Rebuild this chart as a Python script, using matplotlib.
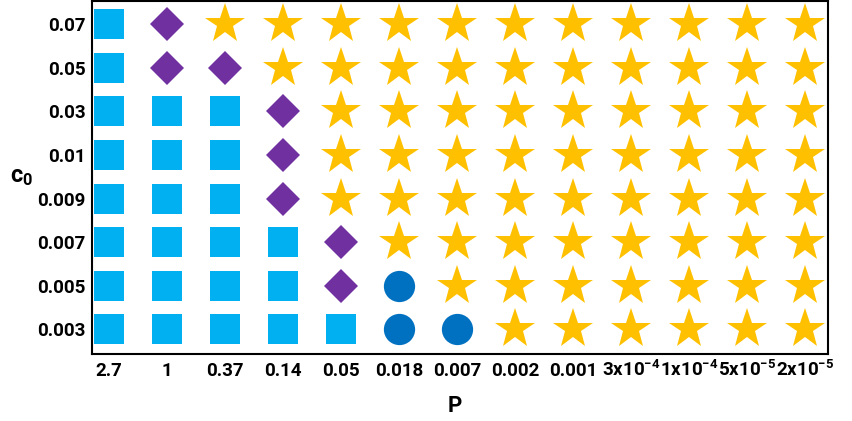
import matplotlib
matplotlib.use("Agg")
import matplotlib.pyplot as plt

plt.rcParams['font.family'] = ['Roboto', 'DejaVu Sans']
plt.rcParams['font.weight'] = 'bold'
plt.rcParams['mathtext.fontset'] = 'custom'
plt.rcParams['mathtext.rm'] = 'Roboto:bold'
plt.rcParams['mathtext.bf'] = 'Roboto:bold'
plt.rcParams['mathtext.default'] = 'bf'

# P values along x, c0 values along y (bottom to top)
p_labels = ['2.7', '1', '0.37', '0.14', '0.05', '0.018', '0.007', '0.002', '0.001',
            r'3x10$^{-4}$', r'1x10$^{-4}$', r'5x10$^{-5}$', r'2x10$^{-5}$']
c0_labels = ['0.003', '0.005', '0.007', '0.009', '0.01', '0.03', '0.05', '0.07']

# phase of each (c0, P) point: S=square, D=diamond, C=circle, T=star
phase_rows = [
    'SSSSSCCTTTTTT',  # 0.003
    'SSSSDCTTTTTTT',  # 0.005
    'SSSSDTTTTTTTT',  # 0.007
    'SSSDTTTTTTTTT',  # 0.009
    'SSSDTTTTTTTTT',  # 0.01
    'SSSDTTTTTTTTT',  # 0.03
    'SDDTTTTTTTTTT',  # 0.05
    'SDTTTTTTTTTTT',  # 0.07
]

styles = {
    'S': dict(marker='s', color='#00B0F0', ms=22),
    'D': dict(marker='D', color='#7030A0', ms=17.5),
    'C': dict(marker='o', color='#0070C0', ms=22.5),
    'T': dict(marker='*', color='#FFC000', ms=30),
}

fig = plt.figure(figsize=(8.52, 4.21), dpi=100)
ax = fig.add_axes([0.108, 0.159, 0.864, 0.838])

for code, st in styles.items():
    xs, ys = [], []
    for j, row in enumerate(phase_rows):
        for i, ch in enumerate(row):
            if ch == code:
                xs.append(i)
                ys.append(j)
    ax.plot(xs, ys, linestyle='none', marker=st['marker'], color=st['color'],
            markersize=st['ms'], markeredgewidth=0)

ax.set_xlim(-0.29, 12.4)
ax.set_ylim(-0.57, 7.53)
ax.set_xticks(range(len(p_labels)))
ax.set_xticklabels(p_labels, fontweight='bold', fontsize=13.5)
ax.set_yticks(range(len(c0_labels)))
ax.set_yticklabels(c0_labels, fontweight='bold', fontsize=13.5)
ax.tick_params(axis='y', length=0, pad=4.5)
ax.tick_params(axis='x', length=0, pad=15.5)
# align x labels on a common baseline so the superscripted ones sit level
for lbl in ax.get_xticklabels():
    lbl.set_verticalalignment('baseline')
for sp in ax.spines.values():
    sp.set_linewidth(1.5)

fig.text(0.534, 0.036, 'P', fontsize=16, fontweight='bold', ha='center', va='center')
fig.text(0.025, 0.58, 'c$_0$', fontsize=17, fontweight='bold', ha='center', va='center')

fig.savefig('out.png', dpi=100)
